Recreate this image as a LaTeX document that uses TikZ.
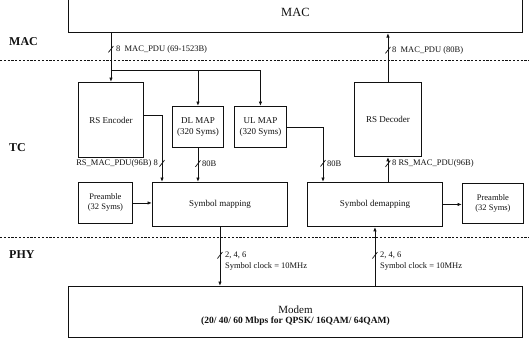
\documentclass[tikz,border=0pt]{standalone}
\usepackage{fontspec}
\setmainfont{Liberation Serif}
\usetikzlibrary{positioning, calc, arrows.meta}
\definecolor{Ink}{HTML}{111111}
\tikzset{
    blockbox/.style={rectangle, draw=Ink, line width=0.9pt, inner sep=1pt, align=center, text=Ink, font=\fontsize{9}{11}\selectfont, anchor=north west},
    arrow/.style={-{Latex[length=4.5pt, width=3.5pt]}, line width=0.9pt, color=Ink},
    line/.style={line width=0.9pt, color=Ink},
    lbl/.style={inner sep=0pt, text=Ink, font=\fontsize{8.5}{11}\selectfont, align=left},
    layer/.style={inner sep=0pt, anchor=west, text=Ink, font=\fontsize{12}{14}\selectfont\bfseries},
    divider/.style={line width=0.9pt, Ink, dash pattern=on 2.2pt off 1.6pt},
}
\newcommand{\busmark}[1]{\draw[line width=0.7pt, Ink] ($(#1)+(-2.5,3.2)$) -- ($(#1)+(2.5,-3.2)$);}

\begin{document}
\begin{tikzpicture}[x=1pt, y=-1pt]
    \useasboundingbox (0,0) rectangle (529,338);
    \clip (0,0) rectangle (529,338);

    % Layer dividers
    \draw[divider] (0,60) -- (529,60);
    \draw[divider] (0,237) -- (529,237);
    \node[layer] (lmac) at (9,42) {MAC};
    \node[layer] (ltc) at (9,148) {TC};
    \node[layer] (lphy) at (9,255) {PHY};

    % MAC and Modem
    \node[blockbox, anchor=south west, minimum width=454pt, minimum height=40pt, font=\fontsize{12.5}{14}\selectfont] (mac) at (68,33) {MAC};
    \node[blockbox, minimum width=454pt, minimum height=51pt] (modem) at (68,286)
        {{\rule{0pt}{16pt}\fontsize{11}{12}\selectfont Modem}\\[-1pt]{\fontsize{9.5}{11}\selectfont\bfseries (20/ 40/ 60 Mbps for QPSK/ 16QAM/ 64QAM)}};

    % TC blocks
    \node[blockbox, minimum width=65pt, minimum height=75pt] (enc) at (78,82) {RS Encoder};
    \node[blockbox, minimum width=67pt, minimum height=74pt] (dec) at (354,82) {RS Decoder};
    \node[blockbox, minimum width=51pt, minimum height=41pt] (dlmap) at (172,106) {DL MAP\\(320 Syms)};
    \node[blockbox, minimum width=52pt, minimum height=41pt] (ulmap) at (234,106) {UL MAP\\(320 Syms)};
    \node[blockbox, minimum width=135pt, minimum height=44pt] (smap) at (152,182) {Symbol mapping};
    \node[blockbox, minimum width=135pt, minimum height=44pt] (sdemap) at (307,182) {Symbol demapping};
    \node[blockbox, minimum width=54pt, minimum height=41pt, font=\fontsize{8.5}{10}\selectfont] (preL) at (78,182) {Preamble\\(32 Syms)};
    \node[blockbox, minimum width=61pt, minimum height=40pt, font=\fontsize{8.5}{10}\selectfont] (preR) at (462,183) {Preamble\\(32 Syms)};

    % Downlink
    \draw[arrow] (mac.south -| enc.north) -- coordinate[pos=0.33] (s1) (enc.north);
    \coordinate (br) at (enc.north |- 0,70);
    \draw[line] (br) -- (br -| ulmap.north);
    \draw[arrow] (br -| dlmap.north) -- (dlmap.north);
    \draw[arrow] (br -| ulmap.north) -- (ulmap.north);
    \draw[arrow] ([yshift=4.5pt]enc.east) -| coordinate[pos=0.86] (s2) ([xshift=10pt]smap.north west);
    \draw[arrow] (dlmap.south) -- coordinate[pos=0.46] (s3) (dlmap.south |- smap.north);
    \draw[arrow] (preL.east) -- (preL.east -| smap.west);
    \draw[arrow] (smap.south) -- coordinate[pos=0.48] (s4) (smap.south |- modem.north);

    % Uplink
    \draw[arrow] (ulmap.east) -| coordinate[pos=0.83] (s5) ([xshift=16pt]sdemap.north west);
    \draw[arrow] (sdemap.south |- modem.north) -- coordinate[pos=0.52] (s6) (sdemap.south);
    \draw[arrow] (sdemap.east) -- (sdemap.east -| preR.west);
    \draw[arrow] (dec.south |- sdemap.north) -- coordinate[pos=0.73] (s7) (dec.south);
    \draw[arrow] (dec.north) -- coordinate[pos=0.65] (s8) (dec.north |- mac.south);

    % Bus widths
    \foreach \s in {s1,s2,s3,s4,s5,s6,s7,s8} {\busmark{\s}}
    \node[lbl, anchor=west] (t1) at ([xshift=5pt]s1) {8\enspace MAC\_PDU (69-1523B)};
    \node[lbl, anchor=east] (t2) at ([xshift=-4pt]s2) {RS\_MAC\_PDU(96B) 8};
    \node[lbl, anchor=west] (t3) at ([xshift=4pt]s3) {80B};
    \node[lbl, anchor=west] (t4) at ([xshift=5pt, yshift=-6pt]s4) {2, 4, 6\\Symbol clock = 10MHz};
    \node[lbl, anchor=west] (t5) at ([xshift=4pt]s5) {80B};
    \node[lbl, anchor=west] (t6) at ([xshift=5pt, yshift=-6pt]s6) {2, 4, 6\\Symbol clock = 10MHz};
    \node[lbl, anchor=west] (t7) at ([xshift=4pt]s7) {8 RS\_MAC\_PDU(96B)};
    \node[lbl, anchor=west] (t8) at ([xshift=4pt]s8) {8\enspace MAC\_PDU (80B)};
\end{tikzpicture}
\end{document}
